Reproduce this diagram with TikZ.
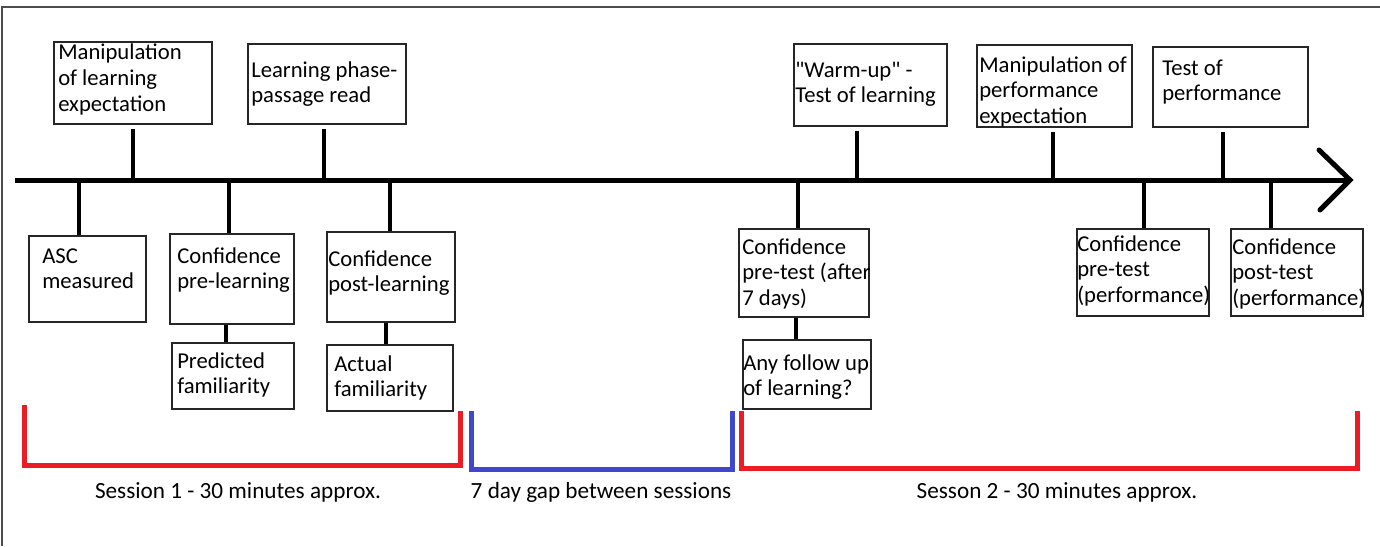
\documentclass[tikz,border=0pt]{standalone}
\usepackage{fontspec}
\setmainfont{Carlito}
\newfontfamily\rawfont{Carlito}[Ligatures=TeXOff]
\usetikzlibrary{fit}
\definecolor{sesred}{HTML}{ED1C24}
\definecolor{sesblue}{HTML}{3F48CC}
\begin{document}
\begin{tikzpicture}[x=0.75pt,y=-0.75pt,
  box/.style={draw=black!85, line width=1.1pt, inner sep=0pt, rectangle},
  txt/.style={inner sep=0pt, align=left, anchor=base west, font=\fontsize{17}{19.2}\selectfont},
  lbl/.style={inner sep=0pt, anchor=base, font=\fontsize{17.4}{19.2}\selectfont},
  stem/.style={line width=3pt, black},
  axis/.style={line width=3.75pt, black},
  brk/.style={line width=3.75pt, line cap=rect}]
\useasboundingbox (0,0) rectangle (1380,546);
\draw[black!70, line width=1.1pt] (2,546) -- (2,7) -- (1380,7);
% timeline
\coordinate (ts) at (15,180);
\coordinate (te) at (1350,180);
\coordinate (ha) at (1319,150);
\coordinate (hb) at (1320,210);
\draw[axis] (ts) -- (te);
\draw[axis, line cap=round, line join=miter] (ha) -- (te) -- (hb);
% top boxes (text anchored at the baseline of its last line)
\node[box, fit={(54,42) (212,124)}] (b1) {};
\node[txt] (b1t) at (58,111) {Manipulation\\of learning\\expectation};
\node[box, fit={(248,44) (406,124)}] (b2) {};
\node[txt] (b2t) at (251,102.6) {Learning phase-\\passage read};
\node[box, fit={(794,44) (947,126)}] (b3) {};
\node[txt] (b3t) at (795,102.6) {{\rawfont"Warm-up"} -\\Test of learning};
\node[box, fit={(977,45) (1132,127)}] (b4) {};
\node[txt] (b4t) at (979,123.2) {Manipulation of\\performance\\expectation};
\node[box, fit={(1153,47) (1308,127)}] (b5) {};
\node[txt] (b5t) at (1162,100.6) {Test of\\performance};
% bottom boxes
\node[box, fit={(29,236) (146,322)}] (c1) {};
\node[txt] (c1t) at (42,288.6) {ASC\\measured};
\node[box, fit={(170,234) (294,324)}] (c2) {};
\node[txt] (c2t) at (177,288.6) {Confidence\\pre-learning};
\node[box, fit={(172,343) (294,409)}] (d2) {};
\node[txt] (d2t) at (177,393.6) {Predicted\\familiarity};
\node[box, fit={(327,232) (455,322)}] (c3) {};
\node[txt] (c3t) at (328,291.6) {Confidence\\post-learning};
\node[box, fit={(327,345) (453,411)}] (d3) {};
\node[txt] (d3t) at (334,396.6) {Actual\\familiarity};
\node[box, fit={(739,229) (869,317)}] (c4) {};
\node[txt] (c4t) at (742,305.2) {Confidence\\pre-test (after\\7 days)};
\node[box, fit={(743,340) (871,409)}] (d4) {};
\node[txt] (d4t) at (743,395.6) {Any follow up\\of learning?};
\node[box, fit={(1077,229) (1209,316)}] (c5) {};
\node[txt] (c5t) at (1077,302.2) {Confidence\\pre-test\\(performance)};
\node[box, fit={(1231,229) (1363,316)}] (c6) {};
\node[txt] (c6t) at (1232,305.2) {Confidence\\post-test\\(performance)};
% stem anchors on the timeline
\foreach \n/\x in {u1/133,u2/324,u3/857,u4/1053,u5/1223,l1/79,l2/229,l3/390,l4/798,l5/1144,l6/1271}
  \coordinate (\n) at (\x,180);
\coordinate (m2) at (226,0);
\coordinate (m3) at (386,0);
\coordinate (m4) at (796,0);
\draw[stem, shorten <=3pt] (u1 |- b1.south) -- (u1);
\draw[stem, shorten <=3pt] (u2 |- b2.south) -- (u2);
\draw[stem, shorten <=3pt] (u3 |- b3.south) -- (u3);
\draw[stem, shorten <=3pt] (u4 |- b4.south) -- (u4);
\draw[stem, shorten <=3pt] (u5 |- b5.south) -- (u5);
\draw[stem] (l1) -- (l1 |- c1.north);
\draw[stem] (l2) -- (l2 |- c2.north);
\draw[stem] (l3) -- (l3 |- c3.north);
\draw[stem] (l4) -- (l4 |- c4.north);
\draw[stem] (l5) -- (l5 |- c5.north);
\draw[stem] (l6) -- (l6 |- c6.north);
\draw[stem] (m2 |- c2.south) -- (m2 |- d2.north);
\draw[stem] (m3 |- c3.south) -- (m3 |- d3.north);
\draw[stem] (m4 |- c4.south) -- (m4 |- d4.north);
% session brackets
\coordinate (r1a) at (24,407);
\coordinate (r1b) at (24,465);
\coordinate (r1c) at (460,465);
\coordinate (r1d) at (460,413);
\coordinate (bla) at (471,413);
\coordinate (blb) at (471,469);
\coordinate (blc) at (732,469);
\coordinate (bld) at (732,413);
\coordinate (r2a) at (741,413);
\coordinate (r2b) at (741,468);
\coordinate (r2c) at (1357,468);
\coordinate (r2d) at (1357,413);
\draw[brk, sesred] (r1a) -- (r1b) -- (r1c) -- (r1d);
\draw[brk, sesblue] (bla) -- (blb) -- (blc) -- (bld);
\draw[brk, sesred] (r2a) -- (r2b) -- (r2c) -- (r2d);
\node[lbl] (s1) at (238,498) {Session 1 - 30 minutes approx.};
\node[lbl] (s0) at (601,498) {7 day gap between sessions};
\node[lbl] (s2) at (1057,498) {Sesson 2 - 30 minutes approx.};
\end{tikzpicture}
\end{document}
